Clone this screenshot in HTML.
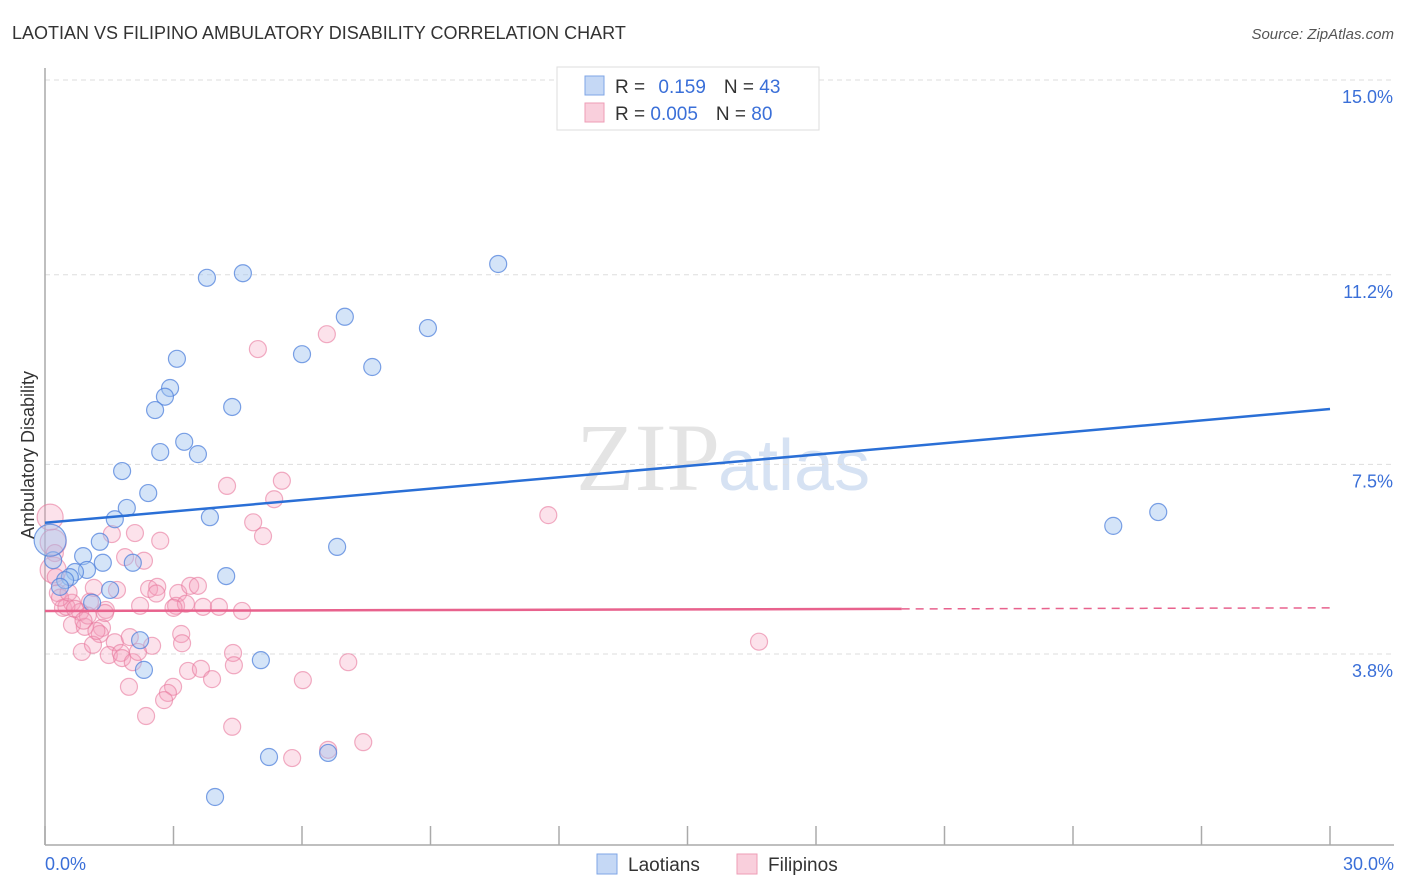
<!DOCTYPE html>
<html><head><meta charset="utf-8"><style>
body{margin:0;background:#fff;font-family:"Liberation Sans",sans-serif;}
#wrap{position:relative;width:1406px;height:892px;overflow:hidden;}
</style></head><body>
<div id="wrap">
<svg id="chart" width="1406" height="892">
<text x="12" y="39" font-size="18" fill="#333">LAOTIAN VS FILIPINO AMBULATORY DISABILITY CORRELATION CHART</text>
<text x="1394" y="39" font-size="15" fill="#555" font-style="italic" text-anchor="end">Source: ZipAtlas.com</text>
<text x="720" y="490" font-size="96" fill="#e4e4e4" text-anchor="end" font-family="Liberation Serif, serif">ZIP</text>
<text x="718" y="490" font-size="72" fill="#d6e2f3">atlas</text>
<g id="grid"></g><g id="axes"></g><g id="pts"></g><g id="trend"></g>
<text transform="translate(34,455) rotate(-90)" font-size="18" fill="#333" text-anchor="middle">Ambulatory Disability</text>
<text x="45" y="870" font-size="18" fill="#3a6fd8">0.0%</text>
<text x="1394" y="870" font-size="18" fill="#3a6fd8" text-anchor="end">30.0%</text>
<g>
<rect x="557" y="67" width="262" height="63" fill="#fff" stroke="#ddd"/>
<rect x="585" y="76" width="19" height="19" fill="#c5d8f5" stroke="#7fa6e6"/>
<rect x="585" y="103" width="19" height="19" fill="#f9cfdc" stroke="#ee9cb6"/>
<text x="615" y="93" font-size="19" fill="#333">R = <tspan fill="#3a6fd8" dx="8">0.159</tspan><tspan dx="18" fill="#333">N = </tspan><tspan fill="#3a6fd8">43</tspan></text>
<text x="615" y="120" font-size="19" fill="#333">R = <tspan fill="#3a6fd8">0.005</tspan><tspan dx="18" fill="#333">N = </tspan><tspan fill="#3a6fd8">80</tspan></text>
</g>
<g><rect x="597" y="854" width="20" height="20" fill="#c5d8f5" stroke="#7fa6e6"/><text x="628" y="871" font-size="19" fill="#333">Laotians</text></g>
<g><rect x="737" y="854" width="20" height="20" fill="#f9cfdc" stroke="#ee9cb6"/><text x="768" y="871" font-size="19" fill="#333">Filipinos</text></g>
</svg>
</div>
<script>
const yTicks=[15.0,11.2,7.5,3.8];
const yTickLabels=["15.0%","11.2%","7.5%","3.8%"];
const xTicks=[0,3,6,9,12,15,18,21,24,27,30];
const laoX=[3.78,4.62,10.58,7.00,8.94,6.00,7.64,3.08,2.92,2.80,2.57,4.37,3.25,2.69,3.57,1.80,2.41,1.91,1.63,3.85,1.28,6.82,0.89,0.19,1.35,2.05,0.98,0.70,0.58,0.47,4.23,1.52,0.35,1.10,2.22,5.04,2.31,5.23,6.61,3.97,24.94,25.99,0.12];
const laoY=[11.14,11.23,11.41,10.38,10.16,9.65,9.40,9.56,8.99,8.82,8.56,8.62,7.94,7.74,7.70,7.37,6.94,6.65,6.43,6.47,5.99,5.89,5.71,5.63,5.58,5.58,5.44,5.40,5.30,5.24,5.32,5.05,5.11,4.80,4.07,3.68,3.49,1.79,1.87,1.01,6.30,6.57,6.02];
const filX=[4.97,6.58,5.53,4.25,5.35,11.75,16.67,4.86,5.09,2.10,2.69,1.56,0.12,0.19,0.23,0.19,1.87,2.31,1.14,1.68,2.43,2.62,3.11,3.39,3.57,0.30,0.42,0.63,0.82,1.05,1.42,2.22,3.06,3.29,3.69,4.06,4.60,0.63,0.93,1.33,1.28,1.63,1.98,2.50,3.18,3.20,0.86,1.12,1.49,1.77,1.80,2.05,2.17,4.39,4.41,3.34,3.64,3.90,7.08,6.02,1.96,2.99,2.87,2.78,2.36,4.37,5.77,6.61,7.43,0.5,0.7,1.0,0.35,0.9,1.4,2.6,3.0,0.55,1.2,0.25];
const filY=[9.75,10.04,7.18,7.08,6.82,6.51,4.04,6.37,6.10,6.16,6.01,6.14,6.47,5.98,5.77,5.44,5.69,5.62,5.09,5.05,5.07,5.11,4.99,5.13,5.13,4.99,4.70,4.80,4.62,4.82,4.66,4.74,4.74,4.78,4.72,4.72,4.64,4.37,4.33,4.31,4.19,4.03,4.13,3.96,4.19,4.01,3.84,3.98,3.78,3.82,3.72,3.64,3.84,3.82,3.58,3.47,3.51,3.31,3.64,3.29,3.16,3.16,3.04,2.90,2.59,2.38,1.77,1.93,2.08,4.72,4.68,4.55,4.90,4.45,4.60,4.98,4.70,5.00,4.25,5.30];
const laoTrend=[6.36,8.58];
const filTrend=[4.64,4.70];
const NS="http://www.w3.org/2000/svg";
const X=v=>45+v/30*1285;
const Y=v=>80+(15-v)*51.25;
function mk(t,a,p){const e=document.createElementNS(NS,t);for(const k in a)e.setAttribute(k,a[k]);document.getElementById(p).appendChild(e);return e;}
yTicks.forEach((t,i)=>{
 const l=mk('line',{x1:45,x2:1394,y1:Y(t),y2:Y(t),stroke:'#ddd','stroke-dasharray':'5,4'},'grid');
 
 
 const tx=mk('text',{x:1393,y:Y(t)+23,'font-size':18,fill:'#3a6fd8','text-anchor':'end'},'grid');
 tx.textContent=yTickLabels[i];
 
 
});
const ax=mk('line',{x1:45,x2:45,y1:68,y2:845,stroke:'#aaa','stroke-width':1.5},'axes');


const bx=mk('line',{x1:45,x2:1394,y1:845,y2:845,stroke:'#aaa','stroke-width':1.5},'axes');


xTicks.forEach(t=>{
 const l=mk('line',{x1:X(t),x2:X(t),y1:826,y2:845,stroke:'#aaa','stroke-width':1.5},'axes');
 
 
});
filX.forEach((x,i)=>{
 const c=mk('circle',{cx:X(x),cy:Y(filY[i]),r:(x<0.2?13:8.5),fill:'rgba(244,160,188,0.3)',stroke:'rgba(232,120,156,0.6)','stroke-width':1.2},'pts');
 
 
});
laoX.forEach((x,i)=>{
 const c=mk('circle',{cx:X(x),cy:Y(laoY[i]),r:(i==42?16:8.5),fill:'rgba(160,196,240,0.45)',stroke:'rgba(80,130,220,0.75)','stroke-width':1.2},'pts');
 
 
});
const lt=mk('line',{x1:X(0),y1:Y(laoTrend[0]),x2:X(30),y2:Y(laoTrend[1]),stroke:'#2a6fd6','stroke-width':2.5},'trend');


const fm=filTrend[0]+(filTrend[1]-filTrend[0])*(20/30);
const ft=mk('line',{x1:X(0),y1:Y(filTrend[0]),x2:X(20),y2:Y(fm),stroke:'#e8628d','stroke-width':2.5},'trend');


const fd=mk('line',{x1:X(20),y1:Y(fm),x2:X(30),y2:Y(filTrend[1]),stroke:'#e8628d','stroke-width':1.5,'stroke-dasharray':'8,6'},'trend');


</script>
</body></html>
